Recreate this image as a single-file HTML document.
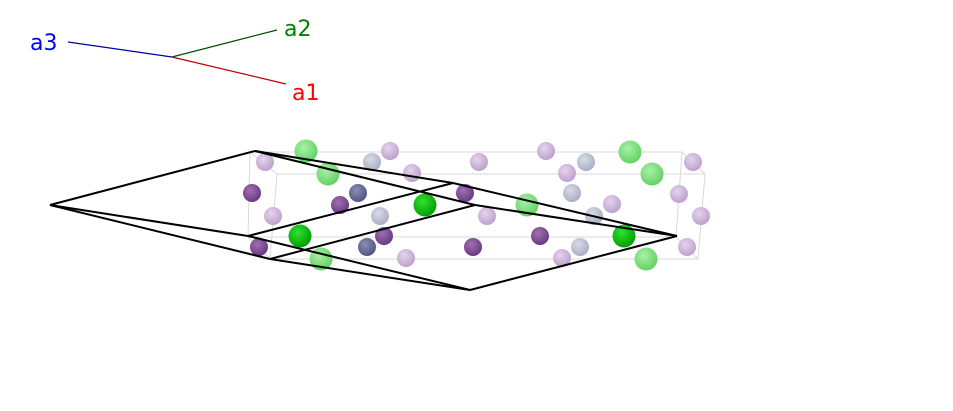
<!DOCTYPE html>
<html><head><meta charset="utf-8"><style>
html,body{margin:0;padding:0;background:#fff;width:953px;height:411px;overflow:hidden}
svg{display:block}
text{font-family:"DejaVu Sans","Liberation Sans",sans-serif;font-size:22px}
</style></head><body>
<svg width="953" height="411" viewBox="0 0 953 411" xmlns="http://www.w3.org/2000/svg">
<defs>
<radialGradient id="lg" cx="0.4" cy="0.35" r="0.7"><stop offset="0" stop-color="#a8f0a8"/><stop offset="1" stop-color="#5fcf5f"/></radialGradient>
<radialGradient id="bg" cx="0.4" cy="0.35" r="0.7"><stop offset="0" stop-color="#30e030"/><stop offset="1" stop-color="#009a00"/></radialGradient>
<radialGradient id="dp" cx="0.4" cy="0.35" r="0.7"><stop offset="0" stop-color="#a070b0"/><stop offset="1" stop-color="#673580"/></radialGradient>
<radialGradient id="lp" cx="0.4" cy="0.35" r="0.7"><stop offset="0" stop-color="#e4d4ec"/><stop offset="1" stop-color="#bb9dcc"/></radialGradient>
<radialGradient id="gb" cx="0.4" cy="0.35" r="0.7"><stop offset="0" stop-color="#d8dbe6"/><stop offset="1" stop-color="#a6abc2"/></radialGradient>
<radialGradient id="ds" cx="0.4" cy="0.35" r="0.7"><stop offset="0" stop-color="#8a8fb4"/><stop offset="1" stop-color="#4c5180"/></radialGradient>
</defs>
<!-- axes -->
<line x1="172" y1="57" x2="68" y2="42" stroke="#0000a0" stroke-width="1.2"/>
<line x1="172" y1="57" x2="277" y2="30" stroke="#005000" stroke-width="1.2"/>
<line x1="172" y1="57" x2="286" y2="84" stroke="#c00000" stroke-width="1.2"/>
<text x="30" y="50" fill="#0000ff">a3</text>
<text x="284" y="36" fill="#008000">a2</text>
<text x="292" y="100" fill="#ff0000">a1</text>
<!-- grey box -->
<g stroke="#d8d8d8" stroke-width="1" fill="none">
<polygon points="250,152 682,152 676,237 248,237"/>
<polygon points="277,174 705,174 698,259 270,259"/>
<line x1="250" y1="152" x2="277" y2="174"/><line x1="682" y1="152" x2="705" y2="174"/>
<line x1="676" y1="237" x2="698" y2="259"/><line x1="248" y1="237" x2="270" y2="259"/>
</g>
<!-- atoms -->
<g>
<circle cx="265" cy="162" r="9" fill="url(#lp)"/><circle cx="390" cy="151" r="9" fill="url(#lp)"/>
<circle cx="412" cy="173" r="9" fill="url(#lp)"/><circle cx="273" cy="216" r="9" fill="url(#lp)"/>
<circle cx="406" cy="258" r="9" fill="url(#lp)"/><circle cx="479" cy="162" r="9" fill="url(#lp)"/>
<circle cx="546" cy="151" r="9" fill="url(#lp)"/><circle cx="567" cy="173" r="9" fill="url(#lp)"/>
<circle cx="487" cy="216" r="9" fill="url(#lp)"/><circle cx="612" cy="204" r="9" fill="url(#lp)"/>
<circle cx="693" cy="162" r="9" fill="url(#lp)"/><circle cx="679" cy="194" r="9" fill="url(#lp)"/>
<circle cx="701" cy="216" r="9" fill="url(#lp)"/><circle cx="687" cy="247" r="9" fill="url(#lp)"/>
<circle cx="562" cy="258" r="9" fill="url(#lp)"/>
<circle cx="372" cy="162" r="9" fill="url(#gb)"/><circle cx="380" cy="216" r="9" fill="url(#gb)"/>
<circle cx="586" cy="162" r="9" fill="url(#gb)"/><circle cx="572" cy="193" r="9" fill="url(#gb)"/>
<circle cx="594" cy="216" r="9" fill="url(#gb)"/><circle cx="580" cy="247" r="9" fill="url(#gb)"/>
<circle cx="306" cy="151" r="11.5" fill="url(#lg)"/><circle cx="328" cy="174" r="11.5" fill="url(#lg)"/>
<circle cx="321" cy="259" r="11.5" fill="url(#lg)"/><circle cx="527" cy="205" r="11.5" fill="url(#lg)"/>
<circle cx="630" cy="152" r="11.5" fill="url(#lg)"/><circle cx="652" cy="174" r="11.5" fill="url(#lg)"/>
<circle cx="646" cy="259" r="11.5" fill="url(#lg)"/>
<circle cx="358" cy="193" r="9" fill="url(#ds)"/><circle cx="367" cy="247" r="9" fill="url(#ds)"/>
<circle cx="252" cy="193" r="9" fill="url(#dp)"/><circle cx="340" cy="205" r="9" fill="url(#dp)"/>
<circle cx="259" cy="247" r="9" fill="url(#dp)"/><circle cx="384" cy="236" r="9" fill="url(#dp)"/>
<circle cx="465" cy="193" r="9" fill="url(#dp)"/><circle cx="473" cy="247" r="9" fill="url(#dp)"/>
<circle cx="540" cy="236" r="9" fill="url(#dp)"/>
<circle cx="300" cy="236" r="11.5" fill="url(#bg)"/><circle cx="425" cy="205" r="11.5" fill="url(#bg)"/>
<circle cx="624" cy="236" r="11.5" fill="url(#bg)"/>
</g>
<!-- cell -->
<g stroke="#000" stroke-width="2" fill="none" stroke-linejoin="round">
<line x1="50" y1="205" x2="255" y2="151"/>
<line x1="50" y1="205" x2="248" y2="236"/>
<line x1="50" y1="205" x2="270" y2="259"/>
<line x1="255" y1="151" x2="453" y2="183"/>
<line x1="255" y1="151" x2="475" y2="205"/>
<line x1="248" y1="236" x2="453" y2="183"/>
<line x1="248" y1="236" x2="470" y2="290"/>
<line x1="270" y1="259" x2="475" y2="205"/>
<line x1="270" y1="259" x2="470" y2="290"/>
<line x1="453" y1="183" x2="677" y2="236"/>
<line x1="475" y1="205" x2="677" y2="236"/>
<line x1="470" y1="290" x2="677" y2="236"/>
</g>
</svg>
</body></html>
